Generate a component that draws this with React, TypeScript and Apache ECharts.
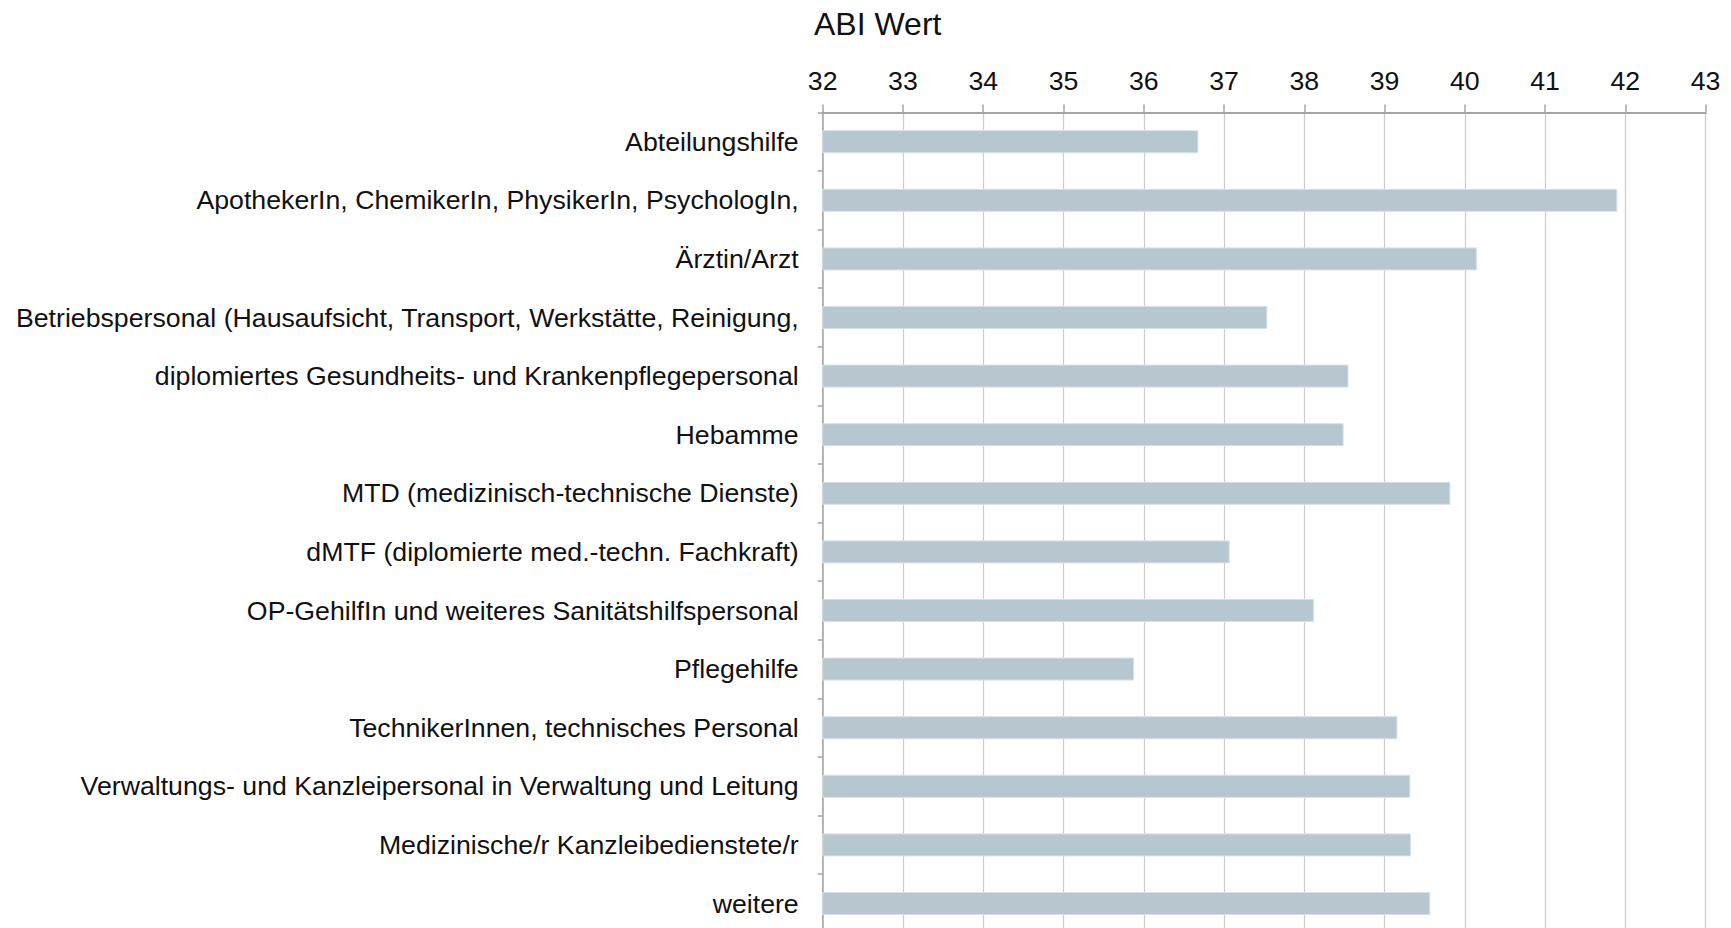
import React, { useEffect, useRef } from "react";
import * as echarts from "echarts";

const categories: string[] = [
  "Abteilungshilfe",
  "ApothekerIn, ChemikerIn, PhysikerIn, PsychologIn,",
  "Ärztin/Arzt",
  "Betriebspersonal (Hausaufsicht, Transport, Werkstätte, Reinigung,",
  "diplomiertes Gesundheits- und Krankenpflegepersonal",
  "Hebamme",
  "MTD (medizinisch-technische Dienste)",
  "dMTF (diplomierte med.-techn. Fachkraft)",
  "OP-GehilfIn und weiteres Sanitätshilfspersonal",
  "Pflegehilfe",
  "TechnikerInnen, technisches Personal",
  "Verwaltungs- und Kanzleipersonal in Verwaltung und Leitung",
  "Medizinische/r Kanzleibedienstete/r",
  "weitere",
];

const abiValues: number[] = [
  36.68, 41.9, 40.15, 37.54, 38.55, 38.49, 39.82, 37.07, 38.12, 35.88, 39.16, 39.32, 39.33, 39.57,
];

const axisMin = 32;
const axisMax = 43;
const axisInterval = 1;
const titleText = "ABI Wert";

export default function App() {
  const ref = useRef<HTMLDivElement>(null);

  useEffect(() => {
    if (!ref.current) return;
    const chart = echarts.init(ref.current, undefined, { renderer: "svg" });
    const font = "'Liberation Sans', Arial, Helvetica, sans-serif";
    chart.setOption({
      animation: false,
      backgroundColor: "#ffffff",
      title: {
        text: titleText,
        left: 814,
        top: 8,
        padding: 0,
        textStyle: {
          fontSize: 32,
          fontWeight: "normal",
          color: "#111111",
          fontFamily: font,
        },
      },
      grid: {
        left: 822.7,
        right: 25.4,
        top: 112.4,
        height: 820.4,
        containLabel: false,
        outerBoundsMode: "none",
      },
      xAxis: {
        type: "value",
        position: "top",
        min: axisMin,
        max: axisMax,
        interval: axisInterval,
        axisLine: { show: true, lineStyle: { color: "#a6a6a6", width: 2 } },
        axisTick: { show: true, inside: false, length: 8, lineStyle: { color: "#a6a6a6", width: 1.5 } },
        axisLabel: {
          margin: 18,
          fontSize: 26.7,
          color: "#111111",
          fontFamily: font,
        },
        splitLine: { show: true, lineStyle: { color: "#cccccc", width: 1.2 } },
      },
      yAxis: {
        type: "category",
        inverse: true,
        data: categories,
        axisLine: { show: true, lineStyle: { color: "#a6a6a6", width: 1.5 } },
        axisTick: { show: true, length: 5, lineStyle: { color: "#a6a6a6", width: 1.5 } },
        axisLabel: {
          margin: 24,
          fontSize: 26.7,
          color: "#111111",
          fontFamily: font,
        },
        splitLine: { show: false },
      },
      series: [
        {
          type: "bar",
          data: abiValues,
          barWidth: 23,
          itemStyle: { color: "#b7c7cf", borderColor: "#d6e0e5", borderWidth: 1 },
        },
      ],
    });
    return () => chart.dispose();
  }, []);

  return (
    <div
      ref={ref}
      style={{ position: "fixed", left: 0, top: 0, width: "1731px", height: "928px", overflow: "hidden" }}
    />
  );
}
